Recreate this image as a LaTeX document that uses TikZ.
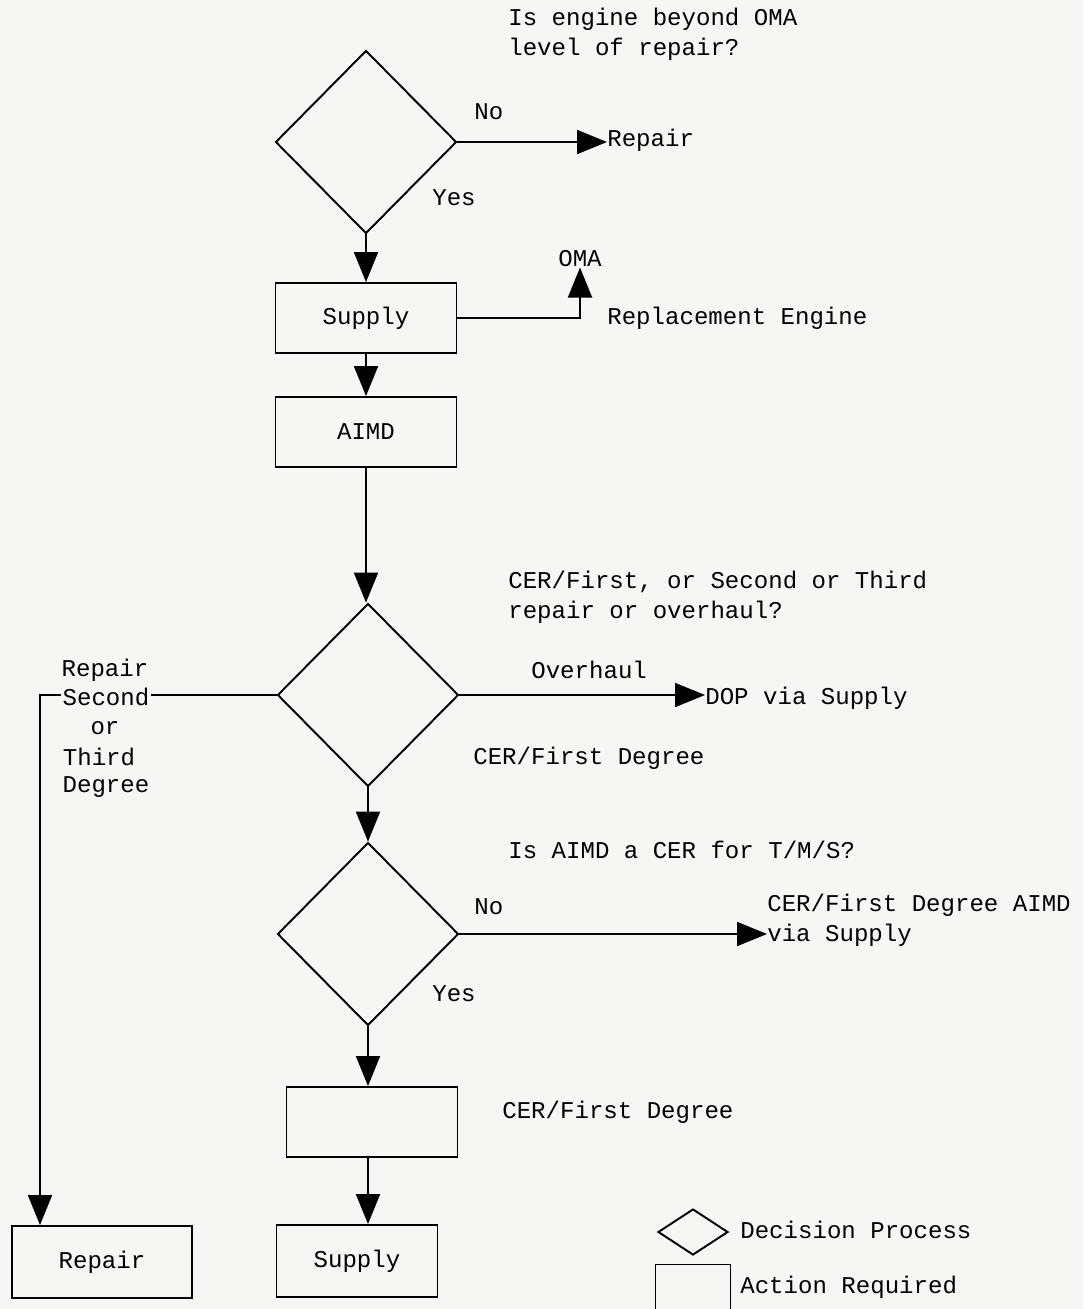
\documentclass[tikz,border=0pt]{standalone}
\usepackage{fontspec}
\setmonofont{Liberation Mono}
\definecolor{PAPER}{HTML}{F6F6F4}
\newcommand{\tyfont}{\ttfamily\fontsize{13.7}{17}\selectfont}
\usetikzlibrary{shapes.geometric,arrows.meta,positioning}

\begin{document}
\begin{tikzpicture}[x=0.02cm, y=-0.02cm,
  dec/.style={draw, diamond, inner sep=0pt, minimum width=3.62cm,
    minimum height=3.66cm, line width=1.1pt},
  act/.style={draw, rectangle, minimum width=3.62cm, minimum height=1.4cm,
    line width=1.1pt, font=\tyfont},
  lbl/.style={font=\tyfont, inner sep=0pt, anchor=west, align=left},
  arr/.style={-{Triangle[length=0.6cm,width=0.48cm]}, line width=1.1pt},
  ln/.style={line width=1.1pt}
]
\fill[PAPER] (0,0) rectangle (1083,1309);
\useasboundingbox (0,0) rectangle (1083,1309);

\node[dec] (dec1) at (366,142) {};
\node[act] (sup1) at (366,318) {Supply};
\node[act] (aimd) at (366,432) {AIMD};
\node[dec] (dec2) at (368,695) {};
\node[dec] (dec3) at (368,934) {};
\node[act, minimum width=3.42cm] (cer) at (372,1122) {};
\node[act, minimum width=3.22cm, minimum height=1.44cm] (sup2) at (357,1261) {Supply};
\node[act, minimum width=3.6cm, minimum height=1.44cm] (rep) at (102,1262) {Repair};

\node[lbl] (q1) at (508,34) {Is engine beyond OMA\\level of repair?};
\node[lbl] (no1) at (474,112) {No};
\node[lbl] (yes1) at (432,198) {Yes};
\node[lbl] (repr) at (607,140) {Repair};
\node[lbl, anchor=center] (oma) at (580,259) {OMA};
\node[lbl] (repl) at (607,318) {Replacement Engine};

\node[lbl] (q2) at (508,597) {CER/First, or Second or Third\\repair or overhaul?};
\node[lbl] (ovh) at (531,670) {Overhaul};
\node[lbl] (dop) at (705,698) {DOP via Supply};
\node[lbl] (cf1) at (473,758) {CER/First Degree};
\node[lbl, anchor=center, inner sep=1pt] (second) at (106,697) {Second};
\node[lbl, anchor=center] (lrep) at (105,670) {Repair};
\node[lbl, anchor=center] (lor) at (105,728) {or};
\node[lbl, anchor=center] (lthird) at (99,757) {Third};
\node[lbl, anchor=center] (ldeg) at (106,787) {Degree};

\node[lbl] (q3) at (508,850) {Is AIMD a CER for T/M/S?};
\node[lbl] (no3) at (474,907) {No};
\node[lbl] (aimdtxt) at (767,920) {CER/First Degree AIMD\\via Supply};
\node[lbl] (yes3) at (432,994) {Yes};
\node[lbl] (cf2) at (502,1112) {CER/First Degree};

\node[dec, minimum width=1.4cm, minimum height=0.92cm] (legd) at (693,1232) {};
\node[act, minimum width=1.5cm, minimum height=1.3cm] (lega) at (693,1297) {};
\node[lbl] (legdt) at (740,1230) {Decision Process};
\node[lbl] (legat) at (740,1287) {Action Required};

\coordinate (lcorner) at (40,695);

\draw[arr] (dec1.east) -- (dec1.east -| repr.west);
\draw[arr] (dec1.south) -- (sup1.north);
\draw[arr] (sup1.east) -| (oma.south);
\draw[arr] (sup1.south) -- (aimd.north);
\draw[arr] (aimd.south) -- (aimd.south |- dec2.north);
\draw[arr] (dec2.east) -- (dec2.east -| dop.west);
\draw[ln] (dec2.west) -- (dec2.west -| second.east);
\draw[arr] (second.west |- lcorner) -- (lcorner) -- (lcorner |- rep.north);
\draw[arr] (dec2.south) -- (dec3.north);
\draw[arr] (dec3.east) -- (dec3.east -| aimdtxt.west);
\draw[arr] (dec3.south) -- (dec3.south |- cer.north);
\draw[arr] (dec3.south |- cer.south) -- (dec3.south |- sup2.north);
\end{tikzpicture}
\end{document}
